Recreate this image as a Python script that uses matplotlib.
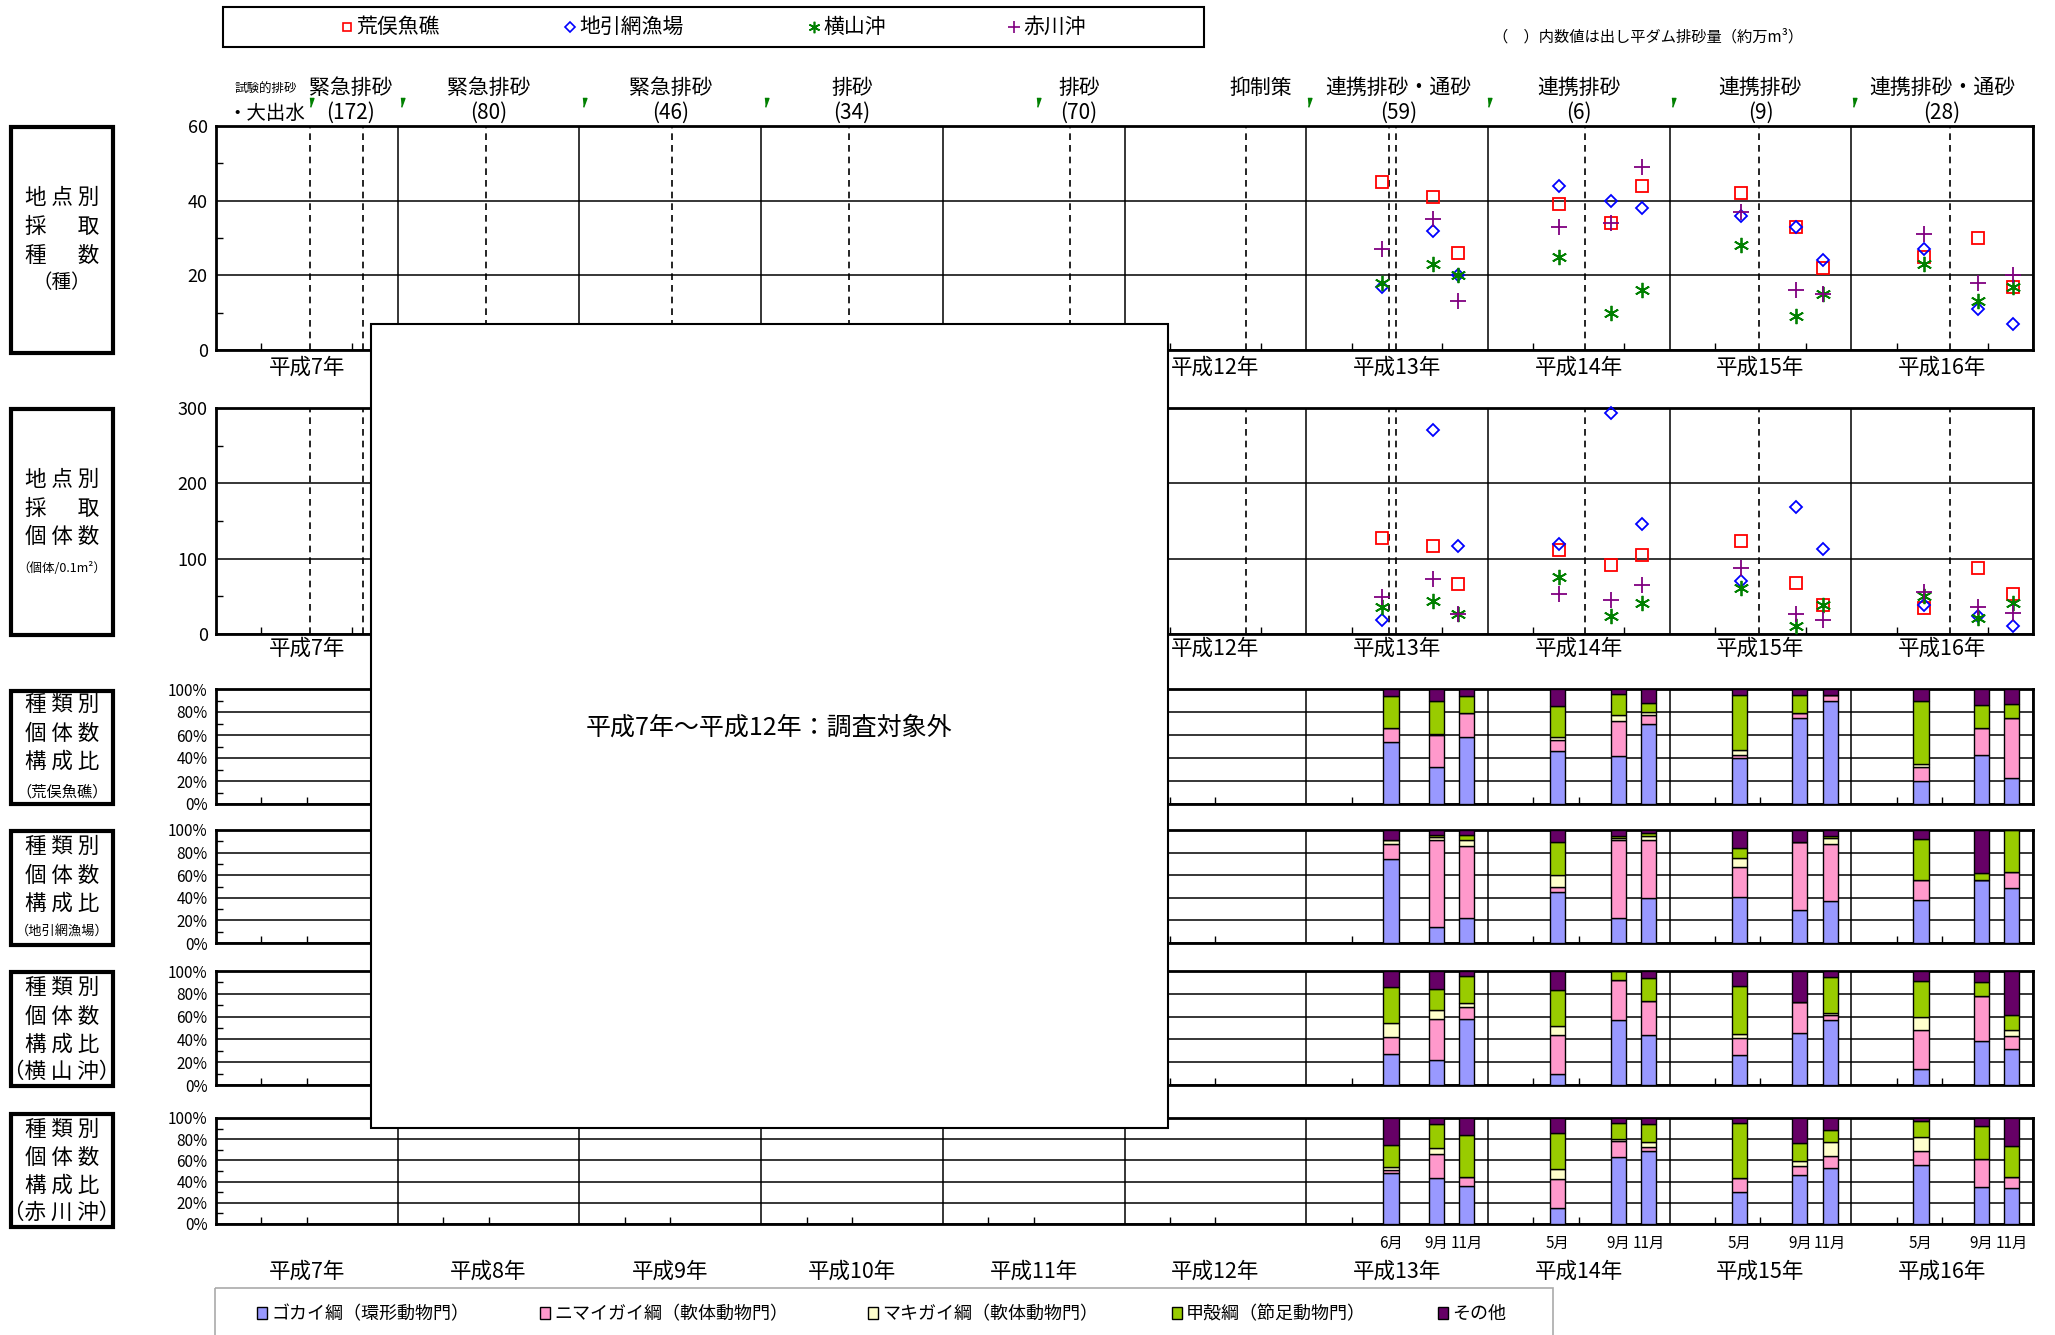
import numpy as np
import matplotlib.pyplot as plt
import matplotlib.transforms as mtransforms
from matplotlib.patches import Rectangle

plt.rcParams['font.family'] = ['Noto Sans CJK JP', 'DejaVu Sans']

W, H = 2055, 1335

years = list(range(7, 17))
year_labels = ['平成%d年' % y for y in years]

# 排砂イベント (年, 月)
event_year = [7, 7, 8, 9, 10, 11, 12, 13, 13, 14, 15, 16]
event_month = [6.2, 9.7, 5.8, 6.1, 5.8, 8.4, 8.0, 5.5, 5.9, 6.4, 5.9, 6.5]

header_year = [7, 8, 9, 10, 11, 12, 13, 14, 15, 16]
header_name = ['緊急排砂', '緊急排砂', '緊急排砂', '排砂', '排砂', '抑制策',
               '連携排砂・通砂', '連携排砂', '連携排砂', '連携排砂・通砂']
header_vol = ['(172)', '(80)', '(46)', '(34)', '(70)', '',
              '(59)', '(6)', '(9)', '(28)']

# 調査日
sample_year = [13, 13, 13, 14, 14, 14, 15, 15, 15, 16, 16, 16]
sample_month = [6, 9, 11, 5, 9, 11, 5, 9, 11, 5, 9, 11]
sample_day = [1, 13, 1, 21, 4, 7, 23, 11, 5, 25, 13, 21]

sites = ['荒俣魚礁', '地引網漁場', '横山沖', '赤川沖']

species = {
    '荒俣魚礁': [45, 41, 26, 39, 34, 44, 42, 33, 22, 25, 30, 17],
    '地引網漁場': [17, 32, 20, 44, 40, 38, 36, 33, 24, 27, 11, 7],
    '横山沖': [18, 23, 20, 25, 10, 16, 28, 9, 15, 23, 13, 17],
    '赤川沖': [27, 35, 13, 33, 34, 49, 37, 16, 15, 31, 18, 20],
}
individuals = {
    '荒俣魚礁': [128, 117, 67, 111, 91, 105, 123, 68, 38, 35, 87, 53],
    '地引網漁場': [18, 271, 117, 119, 293, 146, 70, 168, 113, 38, 24, 10],
    '横山沖': [36, 44, 26, 76, 24, 41, 61, 11, 38, 51, 21, 41],
    '赤川沖': [49, 73, 26, 53, 45, 65, 87, 27, 18, 56, 36, 28],
}

classes = ['ゴカイ綱（環形動物門）', 'ニマイガイ綱（軟体動物門）',
           'マキガイ綱（軟体動物門）', '甲殻綱（節足動物門）', 'その他']
comp = {
    '荒俣魚礁': [[54, 32, 58, 46, 42, 70, 40, 75, 90, 20, 43, 23],
             [12, 28, 21, 10, 30, 7, 3, 4, 5, 12, 23, 52],
             [0, 1, 0, 2, 5, 3, 4, 0, 0, 3, 0, 0],
             [28, 29, 15, 27, 19, 8, 48, 16, 0, 55, 20, 12],
             [6, 10, 6, 15, 4, 12, 5, 5, 5, 10, 14, 13]],
    '地引網漁場': [[74, 14, 22, 45, 22, 40, 41, 29, 37, 38, 56, 49],
              [14, 77, 64, 5, 69, 51, 26, 60, 51, 18, 0, 14],
              [3, 3, 5, 10, 2, 4, 8, 0, 5, 0, 0, 0],
              [0, 2, 5, 29, 2, 2, 9, 0, 2, 36, 6, 37],
              [9, 4, 4, 11, 5, 3, 16, 11, 5, 8, 38, 0]],
    '横山沖': [[27, 22, 58, 10, 57, 44, 26, 46, 57, 14, 39, 32],
            [15, 36, 10, 34, 35, 30, 15, 27, 4, 34, 39, 11],
            [12, 8, 4, 8, 0, 0, 4, 0, 2, 12, 0, 5],
            [32, 18, 24, 31, 8, 20, 42, 0, 32, 31, 12, 13],
            [14, 16, 4, 17, 0, 6, 13, 27, 5, 9, 10, 39]],
    '赤川沖': [[48, 43, 36, 15, 63, 69, 30, 46, 53, 56, 35, 34],
            [3, 23, 8, 27, 15, 4, 13, 9, 11, 13, 26, 10],
            [3, 6, 0, 10, 2, 4, 0, 4, 13, 13, 0, 0],
            [21, 22, 40, 34, 15, 17, 52, 17, 12, 15, 31, 30],
            [25, 6, 16, 14, 5, 6, 5, 24, 11, 3, 8, 26]],
}

site_style = {
    '荒俣魚礁': dict(marker='s', color='#FF0000', ms=8.5),
    '地引網漁場': dict(marker='D', color='#0000FF', ms=6.5),
    '横山沖': dict(marker=(6, 2, 0), color='#008000', ms=11),
    '赤川沖': dict(marker='+', color='#800080', ms=11),
}
class_colors = ['#9999FF', '#FF99CC', '#FFFFCC', '#99CC00', '#660066']

# x軸は平成7年1月からの月数
def to_x(y, m):
    return (np.asarray(y) - 7) * 12 + np.asarray(m)

ev_x = to_x(event_year, event_month)
pt_x = to_x(sample_year, np.array(sample_month) - 1 + (np.array(sample_day) - 1) / 30.0)
bar_x = to_x(sample_year, np.array(sample_month) - 0.4)

fig = plt.figure(figsize=(W / 100, H / 100), dpi=100)

L, R = 216, 2033
def add_ax(top, bottom):
    return fig.add_axes([L / W, 1 - bottom / H, (R - L) / W, (bottom - top) / H])

def frame(ax, ymax, step, minor, xminor):
    ax.set_xlim(0, 120)
    ax.set_ylim(0, ymax)
    ax.set_xticks(np.arange(0, 121, 12))
    ax.set_xticklabels([])
    ax.set_xticks(xminor, minor=True)
    ax.set_yticks(np.arange(0, ymax + 1, step))
    ax.set_yticks(minor, minor=True)
    ax.tick_params(axis='x', which='major', length=0)
    ax.tick_params(axis='both', which='minor', direction='in', length=5, width=1)
    ax.tick_params(axis='y', which='major', direction='in', length=0, pad=6)
    ax.grid(True, which='major', color='black', linewidth=1.1)
    ax.set_axisbelow(True)
    for s in ax.spines.values():
        s.set_linewidth(2)

# 採取種数・個体数
ax1 = add_ax(126, 350)
ax2 = add_ax(408, 634)
xm_sc = np.concatenate([[12 * k + 3, 12 * k + 9] for k in range(10)])
frame(ax1, 60, 20, [10, 30, 50], xm_sc)
frame(ax2, 300, 100, [50, 150, 250], xm_sc)
for ax in (ax1, ax2):
    ax.tick_params(axis='y', labelsize=13)
    for x in ev_x:
        ax.axvline(x, color='black', linestyle=(0, (4, 3)), linewidth=1.2, zorder=1)

for site in sites:
    st = site_style[site]
    for ax, vals in ((ax1, species[site]), (ax2, individuals[site])):
        ax.plot(pt_x, vals, linestyle='none', marker=st['marker'], ms=st['ms'],
                mfc='none', mec=st['color'], mew=1.3, clip_on=False, zorder=4)

# 種類別個体数構成比
bar_axes = [add_ax(689, 804), add_ax(830, 943), add_ax(971, 1085), add_ax(1118, 1224)]
xm_bar = np.concatenate([[12 * k + 3, 12 * k + 6] for k in range(10)])
for ax, site in zip(bar_axes, sites):
    frame(ax, 100, 20, np.arange(10, 100, 20), xm_bar)
    ax.set_yticklabels(['%d%%' % v for v in range(0, 101, 20)], fontsize=11)
    bottom = np.zeros(len(bar_x))
    for vals, col in zip(comp[site], class_colors):
        ax.bar(bar_x, vals, bottom=bottom, width=1.0, color=col,
               edgecolor='black', linewidth=1.0, zorder=3)
        bottom += np.array(vals)

# 年ラベル
def xfig(ax):
    return mtransforms.blended_transform_factory(ax.transData, fig.transFigure)

yc = to_x(years, 6)
for lab, x in zip(year_labels, yc):
    fig.text(x, 1 - 368 / H, lab, transform=xfig(ax1), ha='center', va='center', fontsize=15.5)
    fig.text(x, 1 - 649 / H, lab, transform=xfig(ax2), ha='center', va='center', fontsize=15.5)
    fig.text(x, 1 - 1272 / H, lab, transform=xfig(ax1), ha='center', va='center', fontsize=15.5)
for x, m in zip(bar_x, sample_month):
    fig.text(x, 1 - 1243 / H, '%d月' % m, transform=xfig(ax1), ha='center',
             va='center', fontsize=11)

# 見出し
hx = to_x(header_year, [8.9, 6.0, 6.0, 6.0, 9.0, 9.0, 6.1, 6.0, 6.0, 6.0])
for x, name, vol in zip(hx, header_name, header_vol):
    fig.text(x, 1 - 88 / H, name, transform=xfig(ax1), ha='center', va='center', fontsize=15)
    if vol:
        fig.text(x, 1 - 113 / H, vol, transform=xfig(ax1), ha='center', va='center', fontsize=15)
fig.text(to_x(7, 3.3), 1 - 89 / H, '試験的排砂', transform=xfig(ax1), ha='center',
         va='center', fontsize=9)
fig.text(to_x(7, 3.3), 1 - 113 / H, '・大出水', transform=xfig(ax1), ha='center',
         va='center', fontsize=14)
flag_x = to_x([7, 8, 9, 10, 11, 13, 14, 15, 16], [6.3, 0.3, 0.3, 0.3, 6.3, 0.2, 0.1, 0.2, 0.2])
ax1.plot(flag_x, np.full(len(flag_x), 1 - 102 / H), transform=xfig(ax1), linestyle='none',
         marker=[(-0.4, 1), (0.6, 1), (-0.2, -1.2)], ms=7, color='#008000', clip_on=False)

# 画素座標のレイヤー
axp = fig.add_axes([0, 0, 1, 1], zorder=10)
axp.set_xlim(0, W)
axp.set_ylim(H, 0)
axp.axis('off')
axp.patch.set_visible(False)

fig.text(1648 / W, 1 - 37 / H, '（　）内数値は出し平ダム排砂量（約万m³）', ha='center',
         va='center', fontsize=11)

# 凡例（上）
axp.add_patch(Rectangle((223, 7), 981, 40, fill=False, edgecolor='black', linewidth=1.5))
for site, mx in zip(sites, [347, 570, 814, 1014]):
    st = site_style[site]
    axp.plot([mx], [27], linestyle='none', marker=st['marker'], ms=st['ms'] * 0.75,
             mfc='none', mec=st['color'], mew=1.2)
    axp.text(mx + 9, 27, site, ha='left', va='center', fontsize=15)

# 凡例（下）
axp.add_patch(Rectangle((215, 1288), 1338, 60, fill=False, edgecolor='#AAAAAA', linewidth=1.2,
                        clip_on=False))
for lab, col, mx in zip(classes, class_colors, [262, 545, 873, 1177, 1443]):
    axp.add_patch(Rectangle((mx - 5, 1313 - 6), 10, 12, facecolor=col, edgecolor='black',
                            linewidth=1))
    axp.text(mx + 9, 1314, lab, ha='left', va='center', fontsize=13)

# 左側のラベル枠
boxes = [
    (127, 353, ['地 点 別', '採 　 取', '種 　 数', '（種）'], [198, 227, 256, 283], [15.5, 15.5, 15.5, 14]),
    (409, 635, ['地 点 別', '採 　 取', '個 体 数', '（個体/0.1m²）'], [480, 509, 537, 569], [15.5, 15.5, 15.5, 9]),
    (691, 804, ['種 類 別', '個 体 数', '構 成 比', '（荒俣魚礁）'], [705, 734, 762, 792], [15.5, 15.5, 15.5, 11]),
    (831, 945, ['種 類 別', '個 体 数', '構 成 比', '（地引網漁場）'], [847, 876, 904, 932], [15.5, 15.5, 15.5, 9.5]),
    (972, 1086, ['種 類 別', '個 体 数', '構 成 比', '（横 山 沖）'], [988, 1017, 1045, 1072], [15.5, 15.5, 15.5, 15.5]),
    (1114, 1227, ['種 類 別', '個 体 数', '構 成 比', '（赤 川 沖）'], [1130, 1158, 1186, 1213], [15.5, 15.5, 15.5, 15.5]),
]
for top, bot, lines, ys, fs in boxes:
    axp.add_patch(Rectangle((11, top), 102, bot - top, fill=False, edgecolor='black',
                            linewidth=3))
    for t, y, f in zip(lines, ys, fs):
        axp.text(62, y, t, ha='center', va='center', fontsize=f)

# 調査対象外の枠
axp.add_patch(Rectangle((371, 324), 797, 804, facecolor='white', edgecolor='black',
                        linewidth=1.5))
axp.text(769, 728, '平成7年～平成12年：調査対象外', ha='center', va='center', fontsize=18)

fig.savefig('out.png', dpi=100)
